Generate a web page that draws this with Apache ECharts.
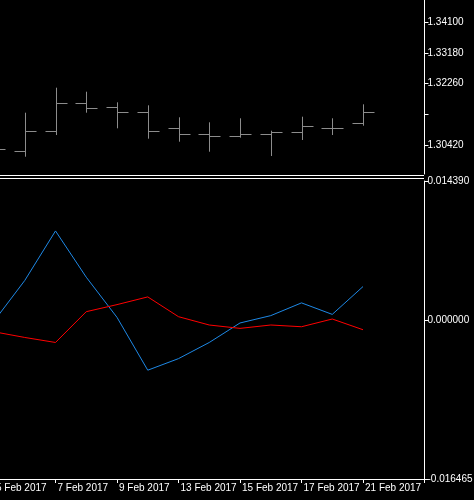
<!DOCTYPE html>
<html>
<head>
<meta charset="utf-8">
<script src="https://cdn.jsdelivr.net/npm/echarts@6/dist/echarts.min.js"></script>
<style>html,body{margin:0;background:#000}#main{width:474px;height:500px}</style>
</head>
<body>
<div id="main"></div>
<script>
var dates = ['5 Feb 2017', '6 Feb 2017', '7 Feb 2017', '8 Feb 2017', '9 Feb 2017', '10 Feb 2017', '13 Feb 2017',
  '14 Feb 2017', '15 Feb 2017', '16 Feb 2017', '17 Feb 2017', '20 Feb 2017', '21 Feb 2017', '', '']
var opens = [1.3035, 1.30252, 1.30851, 1.31690, 1.31553, 1.31403, 1.30941, 1.30761, 1.30701, 1.30743, 1.30803, 1.30941, 1.31082]
var highs = [1.3050, 1.31391, 1.32140, 1.32020, 1.31702, 1.31612, 1.31253, 1.31103, 1.31223, 1.30851, 1.31271, 1.31223, 1.31642]
var lows = [1.3020, 1.30072, 1.30722, 1.31391, 1.30923, 1.30612, 1.30522, 1.30222, 1.30642, 1.30093, 1.30573, 1.30722, 1.31001]
var closes = [1.30303, 1.30851, 1.31690, 1.31541, 1.31403, 1.30851, 1.30761, 1.30701, 1.30743, 1.30803, 1.31001, 1.30941, 1.31403]
var blueLine = [-0.00012, 0.00409, 0.00922, 0.00443, 0.00027, -0.00520, -0.00400, -0.00233, -0.00031, 0.00045, 0.00177, 0.00058, 0.00346]
var redLine = [-0.00122, -0.00181, -0.00233, 0.00086, 0.00159, 0.00239, 0.00034, -0.00052, -0.00087, -0.00052, -0.00070, 0.00010, -0.00101]
var priceTicks = [1.34100, 1.33180, 1.32260, 1.31340, 1.30420]
var priceLabels = [1.34100, 1.33180, 1.32260, 1.30420]
var oscTicks = [0.014390, 0, -0.016465]

var chart = echarts.init(document.getElementById('main'))
var font = 'Liberation Sans'
var ohlc = opens.map(function (o, i) { return [i, o, highs[i], lows[i], closes[i]] })

var option = {
  backgroundColor: '#000',
  animation: false,
  grid: [
    { left: -6, width: 430.5, top: 0, height: 174, outerBoundsMode: 'none', containLabel: false },
    { left: -6, width: 430.5, top: 181, height: 298, outerBoundsMode: 'none', containLabel: false }
  ],
  xAxis: [
    { type: 'category', gridIndex: 0, data: dates, boundaryGap: false,
      axisLine: { show: false }, axisTick: { show: false }, axisLabel: { show: false }, splitLine: { show: false } },
    { type: 'category', gridIndex: 1, data: dates, boundaryGap: false,
      axisLine: { onZero: false, lineStyle: { color: '#fff' } },
      axisTick: { interval: 1, length: 4, lineStyle: { color: '#fff' } },
      axisLabel: { interval: 1, color: '#fff', fontFamily: font, fontSize: 10, align: 'left', margin: 4, padding: [0, 0, 0, 2] },
      splitLine: { show: false } }
  ],
  yAxis: [
    { type: 'value', gridIndex: 0, position: 'right', min: 1.29554, max: 1.34768, scale: true,
      axisLine: { show: true, lineStyle: { color: '#fff' } },
      axisTick: { show: true, length: 4, customValues: priceTicks, lineStyle: { color: '#fff' } },
      axisLabel: { customValues: priceLabels, color: '#fff', fontFamily: font, fontSize: 10, margin: 3,
        formatter: function (v) { return v.toFixed(5) } },
      splitLine: { show: false } },
    { type: 'value', gridIndex: 1, position: 'right', min: -0.016465, max: 0.014390,
      axisLine: { show: true, lineStyle: { color: '#fff' } },
      axisTick: { show: true, length: 4, customValues: oscTicks, lineStyle: { color: '#fff' } },
      axisLabel: { customValues: oscTicks, color: '#fff', fontFamily: font, fontSize: 10, margin: 3,
        formatter: function (v) { return v.toFixed(6) } },
      splitLine: { show: false } }
  ],
  graphic: [
    { type: 'line', shape: { x1: 0, y1: 175.5, x2: 424, y2: 175.5 }, style: { stroke: '#fff', lineWidth: 1 } },
    { type: 'line', shape: { x1: 0, y1: 178.5, x2: 424, y2: 178.5 }, style: { stroke: '#fff', lineWidth: 1 } }
  ],
  series: [
    {
      type: 'custom', xAxisIndex: 0, yAxisIndex: 0, data: ohlc,
      encode: { x: 0, y: [1, 2, 3, 4] },
      renderItem: function (params, api) {
        var o = api.coord([api.value(0), api.value(1)])
        var h = api.coord([api.value(0), api.value(2)])
        var l = api.coord([api.value(0), api.value(3)])
        var c = api.coord([api.value(0), api.value(4)])
        var x = Math.round(h[0]) + 0.5
        var st = { stroke: '#8c8c8c', lineWidth: 1 }
        return { type: 'group', children: [
          { type: 'line', shape: { x1: x, y1: h[1], x2: x, y2: l[1] }, style: st },
          { type: 'line', shape: { x1: x - 11, y1: Math.round(o[1]) + 0.5, x2: x, y2: Math.round(o[1]) + 0.5 }, style: st },
          { type: 'line', shape: { x1: x, y1: Math.round(c[1]) + 0.5, x2: x + 11, y2: Math.round(c[1]) + 0.5 }, style: st }
        ] }
      }
    },
    { type: 'line', xAxisIndex: 1, yAxisIndex: 1, data: blueLine, symbol: 'none',
      lineStyle: { color: '#1e88e5', width: 1 } },
    { type: 'line', xAxisIndex: 1, yAxisIndex: 1, data: redLine, symbol: 'none',
      lineStyle: { color: '#ff0000', width: 1 } }
  ]
}
chart.setOption(option)
</script>
</body>
</html>
